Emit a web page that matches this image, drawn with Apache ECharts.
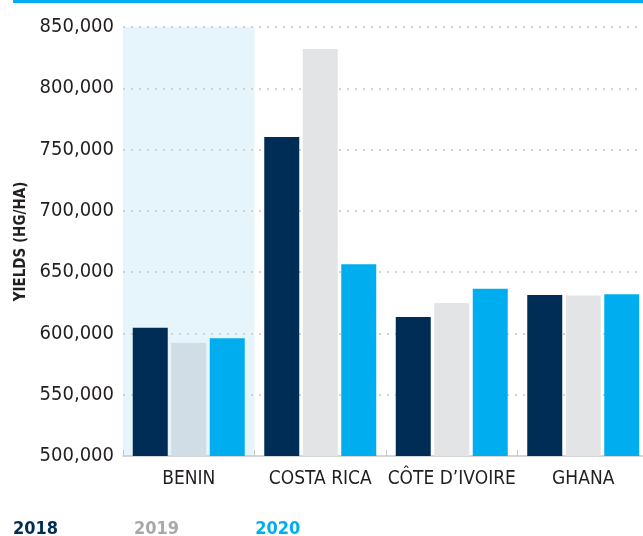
<!DOCTYPE html>
<html>
<head>
<meta charset="utf-8">
<style>
  html, body { margin: 0; padding: 0; background: #fff; overflow: hidden; }
  #topRule { position: absolute; left: 13px; top: 0; width: 630px; height: 3px; background: #00aeef; z-index: 2; }
  /* the last category runs slightly past the right edge of the page */
  #chart { width: 652px; height: 536px; }
</style>
<script src="https://cdn.jsdelivr.net/npm/echarts@6/dist/echarts.min.js"></script>
</head>
<body>
<div id="topRule"></div>
<div id="chart"></div>
<script>
// Cocoa yields by country, hg/ha
const countries = ['BENIN', 'COSTA RICA', 'CÔTE D\u2019IVOIRE', 'GHANA'];
const years = ['2018', '2019', '2020'];
const yields2018 = [604600, 760200, 613400, 631300];
const yields2019 = [592400, 832000, 624800, 631000];
const yields2020 = [596000, 656400, 636500, 631900];
const yTicks = [500000, 550000, 600000, 650000, 700000, 750000, 800000, 850000];

const yearColors = ['#002d56', '#e3e4e6', '#00aeef'];
const legendColors = ['#002d56', '#a7a9ac', '#00aeef'];
const highlightIndex = 0;            // country drawn on the shaded band
const bandColor = '#e6f4fc';
const font = '"DejaVu Sans Condensed", "Liberation Sans Narrow", sans-serif';

const chart = echarts.init(document.getElementById('chart'), null, { renderer: 'canvas' });

function seriesFor(i, values) {
  return {
    name: years[i],
    type: 'bar',
    barWidth: 35,
    barGap: '10%',
    data: values.map((v, k) => {
      // the 2019 bar on the shaded band picks up its tint
      if (i === 1 && k === highlightIndex) return { value: v, itemStyle: { color: '#d1dde6' } };
      return v;
    }),
    itemStyle: { color: yearColors[i] }
  };
}

chart.setOption({
  animation: false,
  grid: { left: 123, width: 526, top: 27, height: 429, containLabel: false },
  legend: {
    left: 3, top: 515,
    icon: 'none', itemWidth: 0, itemHeight: 0, itemGap: 71,
    selectedMode: false,
    data: years.map((y, i) => ({ name: y, textStyle: { color: legendColors[i] } })),
    textStyle: { fontFamily: font, fontSize: 18, fontWeight: 'bold' }
  },
  xAxis: {
    type: 'category',
    data: countries,
    z: 0,
    axisLine: { lineStyle: { color: '#c8c8c8', width: 1.5 } },
    axisTick: { show: true, inside: true, length: 6, interval: 0, lineStyle: { color: '#c8c8c8' } },
    axisLabel: { color: '#231f20', fontFamily: font, fontSize: 19, margin: 14, interval: 0 },
    splitArea: {
      show: true,
      interval: 0,
      areaStyle: { color: countries.map((c, k) => k === highlightIndex ? bandColor : 'rgba(255,255,255,0)') }
    }
  },
  yAxis: {
    type: 'value',
    min: yTicks[0], max: yTicks[yTicks.length - 1], interval: 50000,
    z: 1,
    name: 'YIELDS (HG/HA)',
    nameLocation: 'middle',
    nameGap: 91,
    nameTextStyle: { color: '#231f20', fontFamily: font, fontSize: 15, fontWeight: 'bold' },
    axisLine: { show: false },
    axisTick: { show: false },
    axisLabel: {
      color: '#231f20', fontFamily: font, fontSize: 20, margin: 9,
      formatter: v => v.toLocaleString('en-US')
    },
    splitLine: { lineStyle: { color: '#d2d3d5', width: 2, type: [2, 6] } }
  },
  series: [seriesFor(0, yields2018), seriesFor(1, yields2019), seriesFor(2, yields2020)]
});
</script>
</body>
</html>
